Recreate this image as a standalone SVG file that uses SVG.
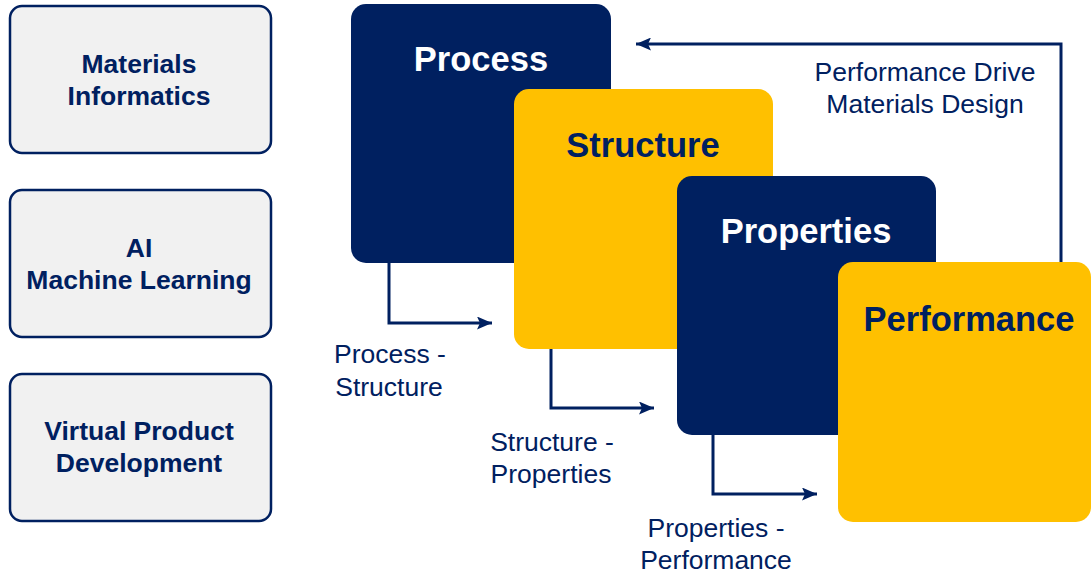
<svg xmlns="http://www.w3.org/2000/svg" width="1091" height="575" viewBox="0 0 1091 575">
  <style>
    .side rect { fill: #f1f1f1; stroke: #002060; stroke-width: 2.5; }
    .side text { font-family: "Liberation Sans", Arial, sans-serif; font-weight: bold; font-size: 26.5px; fill: #002060; text-anchor: middle; }
    .navy { fill: #002060; }
    .gold { fill: #ffc000; }
    .title { font-family: "Liberation Sans", Arial, sans-serif; font-weight: bold; font-size: 34.5px; text-anchor: middle; }
    .title.light { fill: #ffffff; }
    .title.dark { fill: #002060; }
    .link { fill: none; stroke: #002060; stroke-width: 3; }
    .label { font-family: "Liberation Sans", Arial, sans-serif; font-size: 26.5px; fill: #002060; text-anchor: middle; }
  </style>
  <defs>
    <marker id="arrow" markerUnits="userSpaceOnUse" viewBox="0 0 15 13" refX="15" refY="6.5" markerWidth="15" markerHeight="13" orient="auto">
      <path d="M0,0 L15,6.5 L0,13 L3,6.5 Z" fill="#002060"/>
    </marker>
  </defs>
  <rect width="1091" height="575" fill="#ffffff"/>

  <!-- side panels -->
  <g id="materials-informatics" class="side">
    <rect x="10" y="6" width="261" height="147" rx="12"/>
    <text x="139" y="73">Materials</text>
    <text x="139" y="105">Informatics</text>
  </g>
  <g id="ai-machine-learning" class="side">
    <rect x="10" y="190" width="261" height="147" rx="12"/>
    <text x="139" y="257">AI</text>
    <text x="139" y="289">Machine Learning</text>
  </g>
  <g id="virtual-product-development" class="side">
    <rect x="10" y="374" width="261" height="147" rx="12"/>
    <text x="139" y="440">Virtual Product</text>
    <text x="139" y="472">Development</text>
  </g>

  <!-- connectors -->
  <g id="connectors">
    <path class="link" d="M1061,262 V44 H636" marker-end="url(#arrow)"/>
    <path class="link" d="M389,263 V323 H492" marker-end="url(#arrow)"/>
    <path class="link" d="M551,349 V408 H654" marker-end="url(#arrow)"/>
    <path class="link" d="M713,435 V494 H817" marker-end="url(#arrow)"/>
    <text class="label" x="925" y="81">Performance Drive</text>
    <text class="label" x="925" y="113">Materials Design</text>
    <text class="label" x="390" y="363">Process -</text>
    <text class="label" x="389" y="396">Structure</text>
    <text class="label" x="552" y="451">Structure -</text>
    <text class="label" x="551" y="483">Properties</text>
    <text class="label" x="716" y="537">Properties -</text>
    <text class="label" x="716" y="569">Performance</text>
  </g>

  <!-- stacked stages -->
  <g id="process">
    <rect class="navy" x="351" y="4" width="260" height="259" rx="15"/>
    <text class="title light" x="481" y="71">Process</text>
  </g>
  <g id="structure">
    <rect class="gold" x="514" y="89" width="259" height="260" rx="15"/>
    <text class="title dark" x="643" y="157">Structure</text>
  </g>
  <g id="properties">
    <rect class="navy" x="677" y="176" width="259" height="259" rx="15"/>
    <text class="title light" x="806" y="243">Properties</text>
  </g>
  <g id="performance">
    <rect class="gold" x="838" y="262" width="253" height="260" rx="15"/>
    <text class="title dark" x="969" y="331">Performance</text>
  </g>
</svg>
